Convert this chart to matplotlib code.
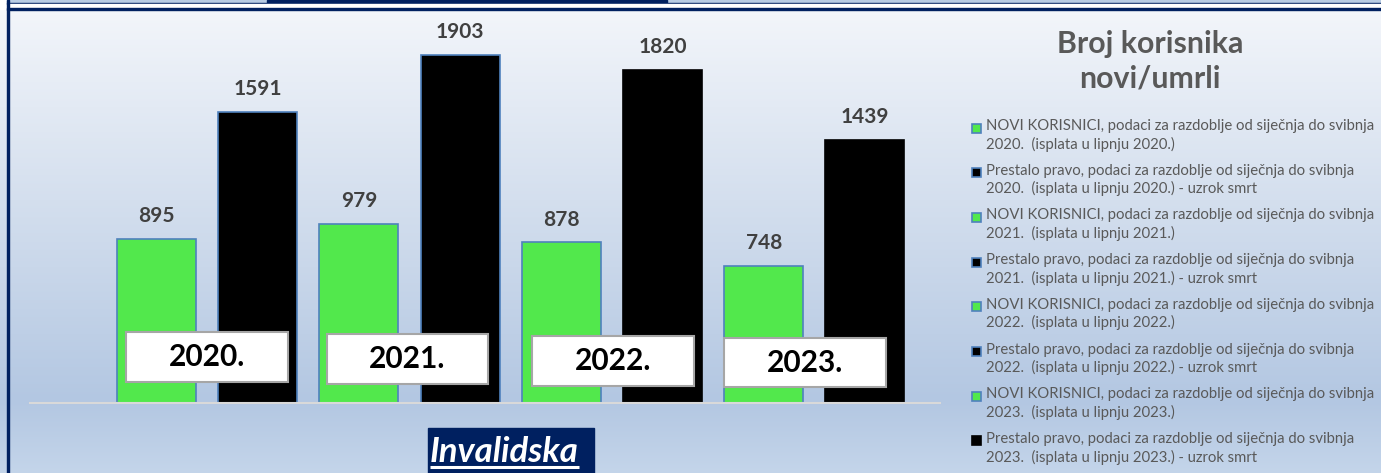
import numpy as np
import matplotlib
matplotlib.use("Agg")
import matplotlib.pyplot as plt
from matplotlib.patches import Rectangle
from matplotlib.colors import to_rgb

plt.rcParams["font.family"] = ["Lato", "DejaVu Sans"]

# ── Data ───────────────────────────────────────────────────────────────────────
years = ["2020.", "2021.", "2022.", "2023."]
novi = [895, 979, 878, 748]          # NOVI KORISNICI
umrli = [1591, 1903, 1820, 1439]     # Prestalo pravo - uzrok smrt
series_labels = [
    "NOVI KORISNICI, podaci za razdoblje od siječnja do svibnja\n2020.  (isplata u lipnju 2020.)",
    "Prestalo pravo, podaci za razdoblje od siječnja do svibnja\n2020.  (isplata u lipnju 2020.) - uzrok smrt",
    "NOVI KORISNICI, podaci za razdoblje od siječnja do svibnja\n2021.  (isplata u lipnju 2021.)",
    "Prestalo pravo, podaci za razdoblje od siječnja do svibnja\n2021.  (isplata u lipnju 2021.) - uzrok smrt",
    "NOVI KORISNICI, podaci za razdoblje od siječnja do svibnja\n2022.  (isplata u lipnju 2022.)",
    "Prestalo pravo, podaci za razdoblje od siječnja do svibnja\n2022.  (isplata u lipnju 2022.) - uzrok smrt",
    "NOVI KORISNICI, podaci za razdoblje od siječnja do svibnja\n2023.  (isplata u lipnju 2023.)",
    "Prestalo pravo, podaci za razdoblje od siječnja do svibnja\n2023.  (isplata u lipnju 2023.) - uzrok smrt",
]
title = "Broj korisnika\nnovi/umrli"
panel_name = "Invalidska"

GREEN = "#52E84C"
BLACK = "#000000"
EDGE = "#4F81BD"
NAVY = "#002060"
TEXT = "#595959"

W, H = 1381, 473
fig = plt.figure(figsize=(W / 100, H / 100), dpi=100)

# ── Background panel (pixel coordinates) ──────────────────────────────────────
bg = fig.add_axes([0, 0, 1, 1])
bg.set_xlim(0, W)
bg.set_ylim(H, 0)
bg.axis("off")

stops_y = [0, 15, 200, 400, 473]
stops_c = [to_rgb(c) for c in ["#f4f7fb", "#f2f5fa", "#d4dfee", "#b3c7e2", "#c4d5ea"]]
ys = np.arange(H)
grad = np.stack([np.interp(ys, stops_y, [c[k] for c in stops_c]) for k in range(3)], axis=1)
bg.imshow(grad[:, None, :], extent=(0, W, H, 0), aspect="auto", zorder=0)

# strip above the panel
bg.add_patch(Rectangle((0, 0), 7, 9, color="white", zorder=1))
bg.add_patch(Rectangle((7, 0), W, 3.5, color="#b8cce4", zorder=1))
bg.add_patch(Rectangle((267, 0), 400, 3.5, color=NAVY, zorder=2))
bg.add_patch(Rectangle((7, 3.2), W, 1.0, color=NAVY, zorder=2))
bg.add_patch(Rectangle((7, 4.2), W, 4.0, color="white", zorder=2))
# panel border
bg.add_patch(Rectangle((7, 8.2), W, 1.8, color=NAVY, zorder=2))
bg.add_patch(Rectangle((7, 0), 1.8, H, color=NAVY, zorder=2))

# title
bg.text(1150, 61, title, ha="center", va="center", fontsize=21.8, fontweight="bold",
        color=TEXT, linespacing=1.3, zorder=3)

# legend
for i, lab in enumerate(series_labels):
    y0 = 128 + i * 44.7
    face = GREEN if i % 2 == 0 else BLACK
    edge = EDGE if i < 6 or i % 2 == 0 else BLACK
    bg.add_patch(Rectangle((972.5, y0 - 4.5), 9, 9, facecolor=face, edgecolor=edge,
                           linewidth=1.2, zorder=3))
    bg.text(986, y0 - 9, lab, ha="left", va="top", fontsize=10.7, color=TEXT,
            linespacing=1.3, zorder=3)

# panel name box with underlined label
bg.add_patch(Rectangle((428, 428), 166, 50, color=NAVY, zorder=3))
name = bg.text(430, 462, panel_name, ha="left", va="baseline", fontsize=25,
               fontweight="bold", fontstyle="italic", color="white", zorder=4)
fig.canvas.draw()
bb = name.get_window_extent().transformed(bg.transData.inverted())
bg.plot([bb.x0, bb.x1], [467, 467], color="white", lw=2.2, solid_capstyle="butt", zorder=4)

# ── Bars ───────────────────────────────────────────────────────────────────────
ax = fig.add_axes([30 / W, (H - 403) / H, 910 / W, 393 / H])
ax.patch.set_alpha(0)
values = [v for pair in zip(novi, umrli) for v in pair]
x = np.arange(len(values))
colors = [GREEN if i % 2 == 0 else BLACK for i in x]
edges = [EDGE if (i % 2 == 0 or i < 4) else BLACK for i in x]
ax.bar(x, values, width=0.78, color=colors, edgecolor=edges, linewidth=1.2, zorder=2)
ax.set_xlim(-1.25, 7.742)
ax.set_ylim(0, 2149)

for xi, v in zip(x, values):
    ax.annotate(f"{v}", (xi, v), xytext=(0, 16.5), textcoords="offset points",
                ha="center", va="center", fontsize=15, fontweight="bold", color="#404040")

# year labels, boxed over each pair of bars
box_shift = [0.0, -0.02, 0.01, -0.09]
for j, yr in enumerate(years):
    xc = 2 * j + 0.5 + box_shift[j]
    yc = 251 - 10 * j
    ax.add_patch(Rectangle((xc - 0.8, yc - 136), 1.6, 273, facecolor="white",
                           edgecolor="#a6a6a6", linewidth=1.5, zorder=4))
    ax.text(xc, yc, yr, ha="center", va="center", fontsize=21.5, fontweight="bold",
            color="black", zorder=5)

for s in ["top", "right", "left"]:
    ax.spines[s].set_visible(False)
ax.spines["bottom"].set_color("#d9d9d9")
ax.spines["bottom"].set_linewidth(1.5)
ax.set_xticks([])
ax.set_yticks([])

fig.savefig("out.png", dpi=100)
